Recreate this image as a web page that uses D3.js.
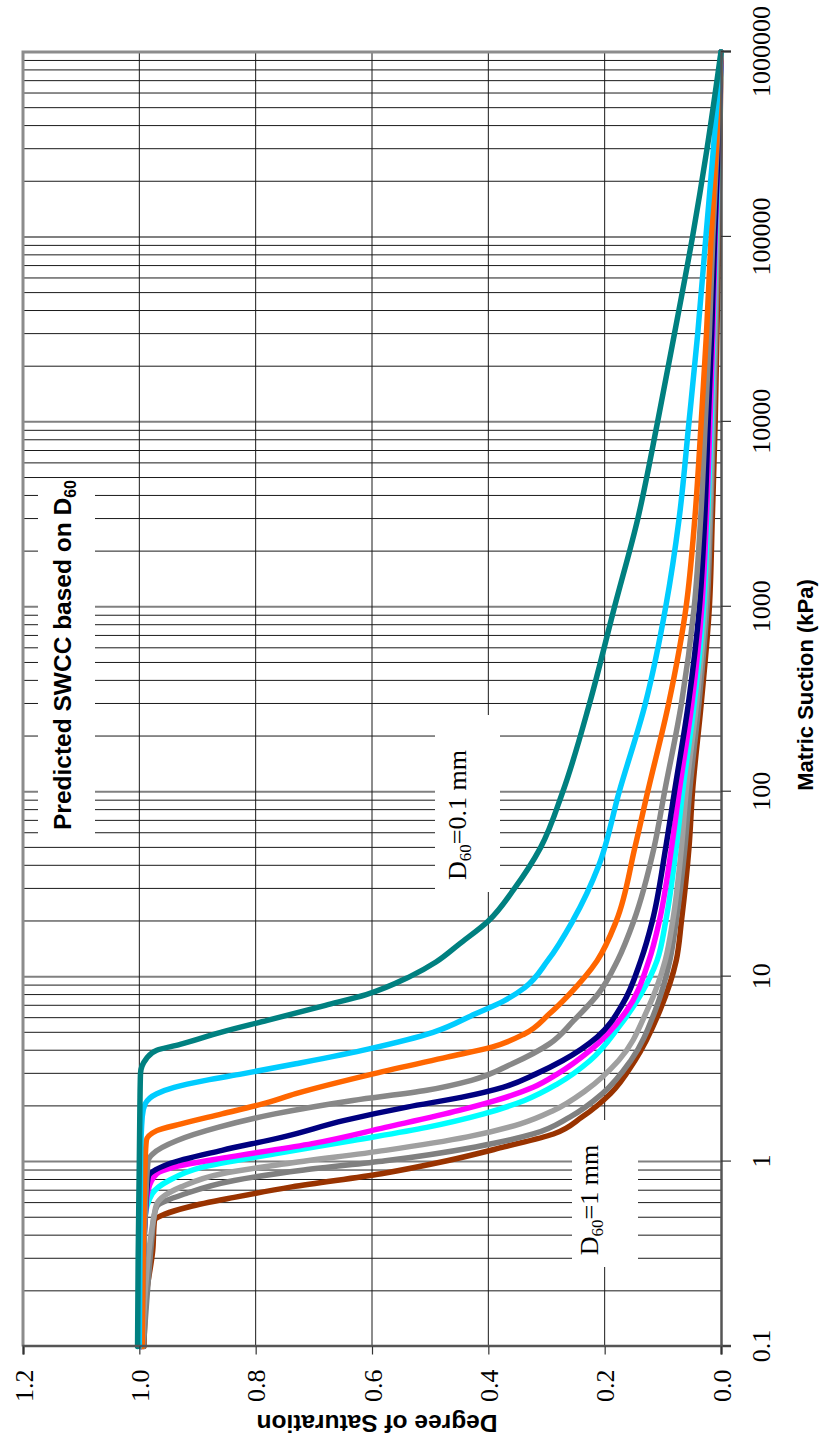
<!DOCTYPE html>
<html><head><meta charset="utf-8">
<script src="https://cdn.jsdelivr.net/npm/d3@7"></script>
<style>body{margin:0;background:#fff}svg{display:block}</style>
</head><body><svg id="c" width="826" height="1447"></svg>
<script>
// ---------------- DATA ----------------
const suctionTicks = [0.1, 1, 10, 100, 1000, 10000, 100000, 1000000];
const suctionTickLabels = ["0.1", "1", "10", "100", "1000", "10000", "100000", "1000000"];
const saturationTicks = [0, 0.2, 0.4, 0.6, 0.8, 1.0, 1.2];
const saturationTickLabels = ["0.0", "0.2", "0.4", "0.6", "0.8", "1.0", "1.2"];

// [matric suction (kPa), degree of saturation]
const curveD60_1mm = [[0.1,0.992],[0.19,0.988],[0.33,0.977],[0.48,0.974],[0.52,0.956],[0.57,0.914],[0.64,0.837],[0.73,0.738],[0.86,0.584],[1.01,0.471],[1.2,0.373],[1.41,0.288],[1.74,0.239],[2.33,0.19],[3.52,0.148],[6.57,0.105],[12.2,0.077],[20,0.068],[50,0.055],[100,0.049],[300,0.034],[1000,0.02],[3000,0.015],[10000,0.01],[30000,0.007],[100000,0.004],[300000,0.002],[1000000,0]];
const curveGrayB = [[0.1,0.993],[0.4,0.978],[0.5,0.975],[0.57,0.97],[0.67,0.921],[0.79,0.837],[0.9,0.717],[1.01,0.577],[1.2,0.422],[1.41,0.323],[1.74,0.26],[2.33,0.204],[3.52,0.155],[6.57,0.113],[12.2,0.088],[20,0.077],[50,0.062],[100,0.054],[300,0.038],[1000,0.024],[3000,0.018],[10000,0.013],[30000,0.009],[100000,0.006],[300000,0.003],[1000000,0]];
const curveGrayLight = [[0.1,0.995],[0.4,0.98],[0.5,0.975],[0.59,0.97],[0.73,0.928],[0.86,0.858],[0.97,0.752],[1.15,0.577],[1.36,0.436],[1.6,0.345],[1.89,0.288],[2.43,0.232],[3.52,0.176],[6.57,0.127],[12.2,0.096],[20,0.083],[50,0.068],[100,0.06],[300,0.042],[1000,0.027],[3000,0.02],[10000,0.015],[30000,0.011],[100000,0.007],[300000,0.003],[1000000,0]];
const curveCyan = [[0.1,0.997],[0.5,0.99],[0.67,0.978],[0.79,0.949],[0.93,0.893],[1.1,0.767],[1.3,0.633],[1.53,0.506],[1.81,0.408],[2.14,0.338],[2.63,0.281],[3.52,0.225],[5.33,0.176],[8,0.138],[12.2,0.11],[20,0.095],[50,0.077],[100,0.066],[300,0.046],[1000,0.03],[3000,0.023],[10000,0.017],[30000,0.013],[100000,0.009],[300000,0.004],[1000000,0]];
const curveMagenta = [[0.1,0.997],[0.5,0.99],[0.7,0.985],[0.86,0.97],[0.93,0.942],[1.06,0.844],[1.25,0.703],[1.53,0.577],[1.89,0.45],[2.14,0.387],[2.52,0.323],[2.98,0.281],[3.99,0.225],[6.57,0.162],[12.2,0.124],[20,0.106],[50,0.085],[100,0.072],[300,0.05],[1000,0.033],[3000,0.025],[10000,0.019],[30000,0.014],[100000,0.01],[300000,0.005],[1000000,0]];
const curveNavy = [[0.1,0.997],[0.5,0.99],[0.82,0.985],[0.97,0.95],[1.15,0.858],[1.36,0.752],[1.67,0.647],[1.97,0.54],[2.23,0.445],[2.52,0.375],[2.98,0.318],[3.52,0.272],[4.71,0.213],[7.13,0.169],[12.2,0.138],[20,0.118],[50,0.095],[100,0.08],[300,0.056],[1000,0.037],[3000,0.028],[10000,0.022],[30000,0.016],[100000,0.011],[300000,0.005],[1000000,0]];
const curveGrayA = [[0.1,0.995],[0.5,0.99],[1.01,0.985],[1.1,0.977],[1.3,0.935],[1.53,0.865],[1.81,0.767],[2.14,0.633],[2.43,0.506],[2.75,0.429],[3.38,0.359],[4.33,0.295],[5.8,0.253],[8.08,0.211],[12.2,0.178],[20,0.15],[50,0.115],[100,0.097],[300,0.068],[1000,0.046],[3000,0.035],[10000,0.027],[30000,0.02],[100000,0.014],[300000,0.007],[1000000,0]];
const curveOrange = [[0.1,0.995],[1,0.99],[1.3,0.988],[1.47,0.97],[1.6,0.928],[1.81,0.858],[2.05,0.788],[2.33,0.731],[2.98,0.598],[3.67,0.471],[4.16,0.394],[4.9,0.338],[6.3,0.295],[8.08,0.26],[12.2,0.213],[20,0.18],[50,0.148],[100,0.126],[300,0.09],[1000,0.06],[3000,0.045],[10000,0.034],[30000,0.025],[100000,0.017],[300000,0.008],[1000000,0]];
const curveSkyBlue = [[0.1,1.0],[1,0.998],[1.75,0.995],[2.05,0.99],[2.33,0.97],[2.52,0.94],[2.75,0.886],[2.98,0.823],[3.38,0.731],[4.07,0.605],[5,0.495],[6.3,0.422],[7.4,0.373],[8.7,0.338],[12.2,0.298],[20,0.255],[40,0.21],[100,0.175],[300,0.13],[1000,0.095],[3000,0.072],[10000,0.055],[30000,0.04],[100000,0.026],[300000,0.013],[1000000,0]];
const curveD60_01mm = [[0.1,1.003],[0.3,1.002],[1,1.0],[2,0.999],[3,0.998],[3.6,0.988],[4,0.97],[4.3,0.93],[5,0.86],[5.8,0.78],[7,0.68],[8,0.61],[10,0.535],[12,0.49],[15,0.45],[20,0.40],[30,0.355],[50,0.31],[100,0.272],[300,0.226],[1000,0.183],[3000,0.143],[10000,0.109],[30000,0.08],[100000,0.049],[300000,0.024],[1000000,0]];

const seriesData = [curveD60_1mm, curveGrayB, curveGrayLight, curveCyan, curveMagenta, curveNavy, curveGrayA, curveOrange, curveSkyBlue, curveD60_01mm];
const seriesColors = ["#993300", "#808080", "#A0A0A0", "#00FFFF", "#FF00FF", "#000080", "#888888", "#FF6600", "#00CCFF", "#008080"];

// ---------------- CHART (drawn in an unrotated frame, then rotated -90deg) ----------------
const svg = d3.select("#c");
svg.append("rect").attr("width", 826).attr("height", 1447).attr("fill", "#fff");
const g = svg.append("g").attr("transform", "translate(0,1447) rotate(-90)");

const x = d3.scaleLog().domain([0.1, 1e6]).range([100.5, 1395]);
const y = d3.scaleLinear().domain([0, 1.2]).range([721, 23]);
const [x0, x1] = x.range(), [y0, y1] = y.range();

// gridlines
const minor = [];
for (let e = -1; e < 6; e++) for (let k = 2; k <= 9; k++) minor.push(k * Math.pow(10, e));
g.append("g").selectAll("line").data(minor).join("line")
  .attr("x1", d => x(d)).attr("x2", d => x(d)).attr("y1", y1).attr("y2", y0)
  .attr("stroke", "#1a1a1a").attr("stroke-width", 1);
g.append("g").selectAll("line").data(suctionTicks.slice(1, -1)).join("line")
  .attr("x1", d => x(d)).attr("x2", d => x(d)).attr("y1", y1).attr("y2", y0)
  .attr("stroke", "#808080").attr("stroke-width", 2);
g.append("g").selectAll("line").data(saturationTicks.slice(1, -1)).join("line")
  .attr("x1", x0).attr("x2", x1).attr("y1", d => y(d)).attr("y2", d => y(d))
  .attr("stroke", "#1a1a1a").attr("stroke-width", 1);

// white label boxes (in frame coords)
function box(u0, u1, v0, v1) {
  g.append("rect").attr("x", u0).attr("y", v0).attr("width", u1 - u0).attr("height", v1 - v0).attr("fill", "#fff");
}
box(1447 - 843, 1447 - 479, 38, 95);
box(1447 - 892, 1447 - 715, 435, 500);
box(1447 - 1267, 1447 - 1120, 572, 638);

// plot border (top & right in frame)
g.append("path").attr("d", `M${x0},${y1}H${x1}V${y0}`).attr("fill", "none")
  .attr("stroke", "#8c8c8c").attr("stroke-width", 3);

// curves
const line = d3.line().x(d => x(d[0])).y(d => y(d[1])).curve(d3.curveMonotoneX);
g.append("g").selectAll("path").data(seriesData).join("path")
  .attr("d", line).attr("fill", "none")
  .attr("stroke", (d, i) => seriesColors[i]).attr("stroke-width", 5.5)
  .attr("stroke-linejoin", "round").attr("stroke-linecap", "round");

// axes
const xAxis = d3.axisBottom(x).tickValues(suctionTicks).tickFormat((d, i) => suctionTickLabels[i]).tickSize(10).tickPadding(0);
const xa = g.append("g").attr("transform", `translate(0,${y0})`).call(xAxis);
xa.select(".domain").attr("stroke", "#555").attr("stroke-width", 2.5);
xa.selectAll(".tick line").attr("stroke", "#333").attr("stroke-width", 1.2);
xa.selectAll(".tick text").attr("font-family", "'Liberation Serif','Times New Roman',serif")
  .attr("font-size", 26).attr("fill", "#000").attr("dy", null).attr("y", 49);

const yAxis = d3.axisLeft(y).tickValues(saturationTicks).tickFormat((d, i) => saturationTickLabels[i]).tickSize(8).tickPadding(0);
const ya = g.append("g").attr("transform", `translate(${x0},0)`).call(yAxis);
ya.select(".domain").attr("stroke", "#555").attr("stroke-width", 2.5);
ya.selectAll(".tick line").attr("stroke", "#333").attr("stroke-width", 1.2);
ya.selectAll(".tick text").attr("font-family", "'Liberation Serif','Times New Roman',serif")
  .attr("font-size", 26).attr("fill", "#000").attr("x", -23).attr("dy", null).attr("y", 9)
  .attr("text-anchor", "end");

// axis titles
g.append("text").attr("x", 1447 - 685).attr("y", 813).attr("text-anchor", "middle")
  .attr("font-family", "'Liberation Sans',Arial,sans-serif").attr("font-weight", "bold").attr("font-size", 22)
  .text("Matric Suction (kPa)");
g.append("text").attr("transform", `translate(32,377) rotate(-90)`).attr("text-anchor", "middle")
  .attr("font-family", "'Liberation Sans',Arial,sans-serif").attr("font-weight", "bold").attr("font-size", 24.5)
  .text("Degree of Saturation");

// chart title with subscript
const t = g.append("text").attr("x", 1447 - 655).attr("y", 71).attr("text-anchor", "middle")
  .attr("font-family", "'Liberation Sans',Arial,sans-serif").attr("font-weight", "bold").attr("font-size", 24.5);
t.append("tspan").text("Predicted SWCC based on D");
t.append("tspan").attr("font-size", 16).attr("dy", 5).text("60");

// annotations
function dLabel(uc, vb, rest) {
  const tt = g.append("text").attr("x", uc).attr("y", vb).attr("text-anchor", "middle")
    .attr("font-family", "'Liberation Serif','Times New Roman',serif").attr("font-size", 26);
  tt.append("tspan").text("D");
  tt.append("tspan").attr("font-size", 17).attr("dy", 5).text("60");
  tt.append("tspan").attr("dy", -5).text(rest);
}
dLabel(1447 - 815, 466, "=0.1 mm");
dLabel(1447 - 1200, 598, "=1 mm");
</script>
</body></html>
